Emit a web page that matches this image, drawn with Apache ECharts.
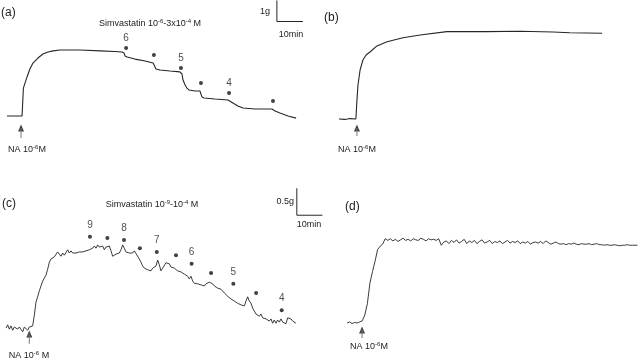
<!DOCTYPE html>
<html><head><meta charset="utf-8">
<script src="https://cdn.jsdelivr.net/npm/echarts@6/dist/echarts.min.js"></script>
<style>html,body{margin:0;padding:0;background:#fff}#c{width:640px;height:361px}</style>
</head><body><div id="c"></div>
<script>
// ---------- Panel (a): tension (g) vs time (min) ----------
const aTime = [0,5.8,6.2,6.3,7.7,8.8,10,11.9,13.8,15.8,17.7,20.4,23.1,28.1,35.8,41.5,44.2,45,45.4,46.2,49.2,53.1,56.2,56.9,57.3,58.8,62.7,66.5,67.3,67.7,68.5,69.2,70,72.3,74.2,74.6,75,75.8,80,85,86.9,88.8,90.8,95.4,101.9,103.1,105,108.1,111.2];
const aTension = [0,0,0,1.33,1.86,2.24,2.52,2.76,2.95,3.05,3.10,3.14,3.14,3.14,3.10,3.07,3.05,3.00,2.86,2.81,2.71,2.62,2.52,2.43,2.24,2.19,2.14,2.10,2.00,1.71,1.48,1.33,1.24,1.19,1.19,1.10,0.90,0.86,0.81,0.76,0.62,0.48,0.38,0.33,0.33,0.24,0.14,0,-0.10];
const aDoseTime = [45.8,56.5,66.9,74.6,85.4,102.3];
const aDoseTension = [3.24,2.90,2.29,1.57,1.10,0.71];
const aDoseLabel = ['6','','5','','4',''];
const aNA = {time: 5.4, tip: -0.57, stem: -1.05};
const aBar = {time: 103.8, tension: 4.5, minutes: 10, grams: 1};

// ---------- Panel (b) ----------
const bTime = [0,2.3,4.2,6.5,6.9,7.3,8.1,9.2,10.4,11.9,14.6,18.5,24.6,31.2,41.5,56.9,69.6,82.3,88.8,101.2];
const bTension = [0,-0.02,0.02,0,0.90,1.62,2.33,2.81,3.05,3.19,3.48,3.68,3.87,4.00,4.16,4.16,4.18,4.14,4.11,4.08];
const bNA = {time: 6.9, tip: -0.43, stem: -0.81};

// ---------- Panel (c): sampled every cStep min ----------
const cStep = 0.651;
const cTension = [-0.02,0.04,-0.04,0.02,-0.06,0,0.02,-0.04,0,-0.02,-0.09,0,-0.02,-0.06,0,0,0.02,
0.22,0.46,0.56,0.67,0.76,0.85,0.85,0.96,1.07,1.20,1.26,1.28,1.30,1.33,
1.39,1.37,1.31,1.37,1.33,1.35,1.43,1.37,1.41,1.37,1.39,1.37,1.37,1.39,1.39,1.39,1.41,1.41,1.43,1.43,
1.46,1.46,1.50,1.46,1.52,1.48,1.50,1.50,1.43,1.48,
1.46,1.50,1.41,1.31,1.33,1.35,1.37,1.37,1.43,1.52,
1.50,1.39,1.41,1.37,1.39,1.37,1.41,1.39,1.31,1.28,
1.20,1.13,1.09,1.11,1.06,1.09,1.04,1.09,1.06,1.13,
1.24,1.15,1.04,1.09,1.07,1.19,1.17,1.17,1.11,1.13,
1.09,1.09,1.04,1.06,1.02,1.04,0.98,1.00,0.94,0.89,
0.94,0.85,0.81,0.83,0.80,0.81,0.78,0.81,0.76,0.80,
0.78,0.83,0.80,0.80,0.76,0.76,0.72,0.72,0.70,0.70,
0.63,0.63,0.57,0.57,0.52,0.54,0.48,0.48,0.44,0.46,
0.41,0.43,0.39,0.48,0.56,0.48,0.44,0.35,0.33,0.24,
0.26,0.20,0.24,0.17,0.20,0.15,0.17,0.11,0.15,0.07,
0.13,0.07,0.13,0.09,0.15,0.09,0.11,0.06,0.17,0.15,
0.15,0.11,0.09,0.07];
const cDoseTime = [32.8,39.6,46.1,52.3,58.9,66.4,72.5,80.1,88.8,97.7,107.7];
const cDoseTension = [1.67,1.65,1.61,1.46,1.39,1.33,1.17,1.00,0.80,0.63,0.31];
const cDoseLabel = ['9','','8','','7','','6','','5','','4'];
const cNA = {time: 9.1, tip: -0.13, stem: -0.31};
const cBar = {time: 113.6, tension: 2.07, minutes: 10, grams: 0.5};

// ---------- Panel (d): sampled every 1 min ----------
const dStep = 1;
const dTension = [0.00,0.02,-0.01,0.01,0.00,0.02,0.04,0.15,0.36,0.74,0.95,1.14,1.36,1.42,1.46,1.56,1.53,
1.56,1.52,1.55,1.51,1.54,1.57,1.53,1.55,1.52,1.56,1.54,1.53,1.57,1.55,1.52,1.56,1.54,1.55,1.53,1.56,
1.44,1.50,
1.52,1.47,1.53,1.49,1.54,1.48,1.51,1.55,1.47,1.52,1.49,1.53,1.47,1.51,1.54,1.48,1.50,1.53,1.47,1.51,1.49,1.52,1.47,1.50,1.53,1.48,1.51,1.49,1.52,1.47,1.50,1.48,1.51,
1.46,1.49,1.50,1.48,1.51,1.47,1.52,1.49,1.46,1.48,1.50,1.47,
1.46,1.47,1.45,1.47,1.46,1.48,1.46,1.45,1.47,1.46,1.46,1.47,1.45,1.46,1.47,1.45,
1.45,1.44,1.45,1.44,1.44,1.45,1.44,1.43,1.44,1.44,1.45,1.44,1.44,1.44,1.44];
const dNA = {time: 5.9, tip: -0.13, stem: -0.28};

// ---------- layout ----------
const panels = [
  {x0: 7,   y0: 116, pxMin: 2.6,  pxG: 21, xr: [0,117], yr: [-1.5,5.5]},
  {x0: 339, y0: 119, pxMin: 2.6,  pxG: 21, xr: [0,115], yr: [-1.5,5.5]},
  {x0: 6,   y0: 327, pxMin: 2.56, pxG: 54, xr: [0,125], yr: [-0.5,2.7]},
  {x0: 347, y0: 323, pxMin: 2.56, pxG: 54, xr: [0,115], yr: [-0.5,2.7]}
];
const INK = '#262626';
const FONT = 'Liberation Sans, Arial, sans-serif';
const grid = panels.map(p => ({
  left: p.x0 + p.xr[0]*p.pxMin, width: (p.xr[1]-p.xr[0])*p.pxMin,
  top: p.y0 - p.yr[1]*p.pxG, height: (p.yr[1]-p.yr[0])*p.pxG, containLabel: false
}));
const xAxis = panels.map((p,i) => ({type:'value', gridIndex:i, min:p.xr[0], max:p.xr[1], show:false}));
const yAxis = panels.map((p,i) => ({type:'value', gridIndex:i, min:p.yr[0], max:p.yr[1], show:false}));

const zip = (xs, ys) => xs.map((x,i) => [x, ys[i]]);
const sampled = (vals, step) => vals.map((v,i) => [i*step, v]);

function trace(i, data, w) {
  return {type:'line', xAxisIndex:i, yAxisIndex:i, data, symbol:'none', silent:true,
    lineStyle:{color:INK, width:w||1}, animation:false, clip:false};
}
function doses(i, ts, gs, labels, dist) {
  return {type:'scatter', xAxisIndex:i, yAxisIndex:i, symbolSize:4, silent:true, animation:false,
    itemStyle:{color:'#111'},
    data: ts.map((t,k) => ({value:[t, gs[k]], name: labels[k],
      label:{show: labels[k] !== '', formatter: labels[k], position:'top', distance: dist,
        color:'#222', fontSize:10, fontFamily:FONT}}))};
}
function arrow(i, na) {
  return [
    {type:'line', xAxisIndex:i, yAxisIndex:i, data:[[na.time, na.stem],[na.time, na.tip]], symbol:'none',
      silent:true, animation:false, clip:false, lineStyle:{color:'#777', width:1}},
    {type:'scatter', xAxisIndex:i, yAxisIndex:i, data:[[na.time, na.tip]], symbol:'triangle',
      symbolSize:[6,7], silent:true, animation:false, clip:false, itemStyle:{color:'#111'}}
  ];
}
function scaleBar(i, b) {
  return {type:'line', xAxisIndex:i, yAxisIndex:i, symbol:'none', silent:true, animation:false, clip:false,
    lineStyle:{color:INK, width:1},
    data:[[b.time, b.tension + b.grams],[b.time, b.tension],[b.time + b.minutes, b.tension]]};
}

const series = [
  trace(0, zip(aTime, aTension), 1.1),
  doses(0, aDoseTime, aDoseTension, aDoseLabel, 3),
  ...arrow(0, aNA),
  scaleBar(0, aBar),
  trace(1, zip(bTime, bTension), 1.1),
  ...arrow(1, bNA),
  trace(2, sampled(cTension, cStep), 0.9),
  doses(2, cDoseTime, cDoseTension, cDoseLabel, 5),
  ...arrow(2, cNA),
  scaleBar(2, cBar),
  trace(3, sampled(dTension, dStep), 0.9),
  ...arrow(3, dNA)
];

const rich = {n:{fontSize:9, fontFamily:FONT, fill:'#222', lineHeight:11},
              s:{fontSize:6, fontFamily:FONT, fill:'#222', verticalAlign:'top', lineHeight:6}};
function txt(x, y, text, opts) {
  opts = opts || {};
  return {type:'text', x, y, silent:true,
    style:{text, rich, fill:'#222', font: (opts.size||9)+'px '+FONT,
      align: opts.align||'center', verticalAlign:'middle'}};
}

const graphic = [
  txt(1, 13, '(a)', {size:12, align:'left'}),
  txt(150, 24, '{n|Simvastatin 10}{s|-6}{n|-3x10}{s|-4}{n| M}'),
  txt(270, 12, '1g', {align:'right'}),
  txt(291, 35, '10min'),
  txt(27, 150, '{n|NA 10}{s|-6}{n|M}'),
  txt(324, 18, '(b)', {size:12, align:'left'}),
  txt(357, 150, '{n|NA 10}{s|-6}{n|M}'),
  txt(2, 204, '(c)', {size:12, align:'left'}),
  txt(152, 205, '{n|Simvastatin 10}{s|-9}{n|-10}{s|-4}{n| M}'),
  txt(294, 202, '0.5g', {align:'right'}),
  txt(309, 225, '10min'),
  txt(29, 356, '{n|NA 10}{s|-6}{n| M}'),
  txt(345, 207, '(d)', {size:12, align:'left'}),
  txt(369, 347, '{n|NA 10}{s|-6}{n|M}')
];

const chart = echarts.init(document.getElementById('c'), null, {renderer:'canvas'});
chart.setOption({backgroundColor:'#fff', animation:false, grid, xAxis, yAxis, series, graphic});
</script></body></html>
